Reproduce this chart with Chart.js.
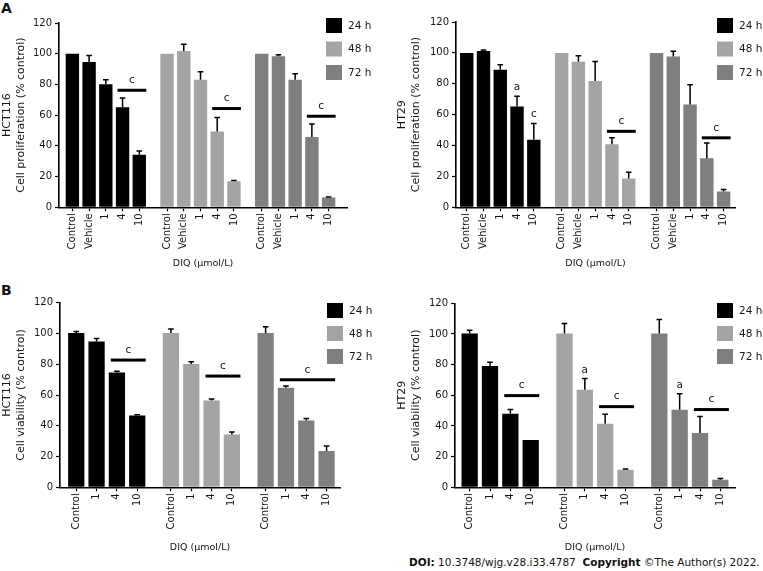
<!DOCTYPE html>
<html><head><meta charset="utf-8">
<script src="https://cdn.jsdelivr.net/npm/chart.js@4.4.0/dist/chart.umd.min.js"></script>
<style>
html,body{margin:0;padding:0;background:#fff;width:763px;height:571px;overflow:hidden;position:relative;font-family:"DejaVu Sans",Verdana,sans-serif;color:#111}
canvas{position:absolute;display:block}
.lbl{position:absolute;font-weight:bold;font-size:14px;line-height:14px}
#doi{position:absolute;left:409px;top:556px;font-size:10.5px;line-height:13px;white-space:nowrap}
</style></head><body>
<div class="lbl" style="left:1px;top:1px">A</div>
<div class="lbl" style="left:1px;top:283px">B</div>
<canvas id="c1" width="380" height="270" style="left:0;top:0"></canvas>
<canvas id="c2" width="383" height="270" style="left:380px;top:0"></canvas>
<canvas id="c3" width="380" height="284" style="left:0;top:270px"></canvas>
<canvas id="c4" width="383" height="284" style="left:380px;top:270px"></canvas>
<div id="doi"><b>DOI:</b> 10.3748/wjg.v28.i33.4787&nbsp;&nbsp;<b>Copyright</b> ©The Author(s) 2022.</div>
<script>
// ---------- data ----------
const timeLabels = ['24 h', '48 h', '72 h'];
const catsA = ['Control', 'Vehicle', '1', '4', '10'];
const catsB = ['Control', '1', '4', '10'];
const yTickValues = [0, 20, 40, 60, 80, 100, 120];
const xTitle = 'DIQ (μmol/L)';

// A - HCT116 proliferation
const hctProl24 = [100, 94.6, 80.1, 65.2, 34.2];
const hctProl24Err = [0, 4.3, 3.0, 6.0, 2.4];
const hctProl48 = [100, 101.7, 83.1, 49.4, 16.9];
const hctProl48Err = [0, 4.5, 5.2, 9.0, 0.6];
const hctProl72 = [100, 98.3, 83.1, 45.7, 6.3];
const hctProl72Err = [0, 1.1, 3.9, 8.6, 0.4];
const hctProlNotes = [
  {g: 0, from: 3, to: 4, level: 76.2, text: 'c'},
  {g: 1, from: 3, to: 4, level: 64.3, text: 'c'},
  {g: 2, from: 3, to: 4, level: 59.3, text: 'c'}
];

// A - HT29 proliferation
const htProl24 = [100, 101.3, 89.1, 65.3, 43.7];
const htProl24Err = [0, 0.6, 3.2, 6.6, 10.5];
const htProl48 = [100, 94.3, 81.8, 40.9, 18.6];
const htProl48Err = [0, 3.8, 12.6, 4.1, 4.1];
const htProl72 = [100, 97.6, 66.6, 31.8, 10.3];
const htProl72Err = [0, 3.4, 12.8, 9.8, 1.3];
const htProlNotes = [
  {g: 0, from: 3, to: 3, level: 77.5, text: 'a'},
  {g: 0, from: 4, to: 4, level: 60.4, text: 'c'},
  {g: 1, from: 3, to: 4, level: 49.2, text: 'c'},
  {g: 2, from: 3, to: 4, level: 45.0, text: 'c'}
];

// B - HCT116 viability
const hctViab24 = [100.3, 94.8, 74.7, 46.7];
const hctViab24Err = [0.9, 2.0, 0.7, 0.4];
const hctViab48 = [100.3, 80.1, 56.5, 34.4];
const hctViab48Err = [2.6, 1.5, 0.9, 1.5];
const hctViab72 = [100.3, 64.7, 43.5, 23.6];
const hctViab72Err = [4.1, 1.1, 1.3, 3.2];
const hctViabNotes = [
  {g: 0, from: 2, to: 3, level: 82.7, text: 'c'},
  {g: 1, from: 2, to: 3, level: 72.3, text: 'c'},
  {g: 2, from: 1, to: 3, level: 69.9, text: 'c'}
];

// B - HT29 viability
const htViab24 = [100.3, 79.1, 48.0, 30.9];
const htViab24Err = [2.2, 2.4, 2.8, 0];
const htViab48 = [100.3, 63.7, 41.5, 11.5];
const htViab48Err = [6.5, 7.2, 6.1, 0.4];
const htViab72 = [100.3, 50.6, 35.4, 5.0];
const htViab72Err = [9.1, 10.4, 10.7, 0.7];
const htViabNotes = [
  {g: 0, from: 2, to: 3, level: 59.8, text: 'c'},
  {g: 1, from: 1, to: 1, level: 76.3, text: 'a'},
  {g: 1, from: 2, to: 3, level: 52.6, text: 'c'},
  {g: 2, from: 1, to: 1, level: 66.3, text: 'a'},
  {g: 2, from: 2, to: 3, level: 50.7, text: 'c'}
];

// ---------- style ----------
const FONT = '"DejaVu Sans", Verdana, sans-serif';
const barColors = ['#000000', '#a4a4a6', '#7f7f7f'];
const TEXT = '#161616';
const GROUP_GAP = 0.66;

const overlay = {
  id: 'overlay',
  afterDatasetsDraw(chart) {
    const ctx = chart.ctx, xs = chart.scales.x, ys = chart.scales.y;
    const o = chart.options.plugins.overlay;
    ctx.save();
    // error bars (upper only)
    chart.data.datasets.forEach(ds => {
      ds.data.forEach((p, i) => {
        const e = ds.errs[i];
        if (!e) return;
        const x = xs.getPixelForValue(p.x);
        const y0 = ys.getPixelForValue(p.y), y1 = ys.getPixelForValue(p.y + e);
        ctx.strokeStyle = '#000'; ctx.lineWidth = 1.5;
        ctx.beginPath(); ctx.moveTo(x, y0); ctx.lineTo(x, y1);
        ctx.moveTo(x - 2.8, y1); ctx.lineTo(x + 2.8, y1); ctx.stroke();
      });
    });
    // significance notes
    ctx.fillStyle = TEXT;
    ctx.font = '10.5px ' + FONT;
    ctx.textAlign = 'center'; ctx.textBaseline = 'middle';
    o.notes.forEach(n => {
      const pos = o.positions[n.g];
      if (n.from === n.to) {
        ctx.fillText(n.text, xs.getPixelForValue(pos[n.from]), ys.getPixelForValue(n.level));
      } else {
        const xa = xs.getPixelForValue(pos[n.from] - 0.3);
        const xb = xs.getPixelForValue(pos[n.to] + 0.42);
        const y = ys.getPixelForValue(n.level);
        ctx.fillStyle = '#000';
        ctx.fillRect(xa, y - 1.5, xb - xa, 3);
        ctx.fillStyle = TEXT;
        ctx.fillText(n.text, (xa + xb) / 2, y - 10);
      }
    });
    // legend
    const L = o.legend;
    ctx.textAlign = 'left';
    ctx.font = '10.5px ' + FONT;
    chart.data.datasets.forEach((ds, g) => {
      const top = L.y + g * L.pitch;
      ctx.fillStyle = ds.backgroundColor;
      ctx.fillRect(L.x, top, 16, 15);
      ctx.fillStyle = TEXT;
      ctx.fillText(ds.label, L.x + 22, top + 8);
    });
    ctx.restore();
  }
};

function makeChart(id, cats, series, errs, notes, yTitle, lay) {
  const n = cats.length, stride = n + GROUP_GAP;
  const positions = [], tickPos = [], tickLabels = [];
  for (let g = 0; g < series.length; g++) {
    positions.push(cats.map((c, i) => g * stride + i));
    cats.forEach((c, i) => { tickPos.push(g * stride + i); tickLabels.push(c); });
  }
  const datasets = series.map((vals, g) => ({
    label: timeLabels[g],
    data: vals.map((v, i) => ({x: positions[g][i], y: v})),
    errs: errs[g],
    backgroundColor: barColors[g],
    borderWidth: 0,
    grouped: false,
    barPercentage: 0.8,
    categoryPercentage: 1
  }));
  const tickFont = {family: FONT, size: 10};
  return new Chart(document.getElementById(id), {
    type: 'bar',
    data: {datasets},
    plugins: [overlay],
    options: {
      responsive: false, animation: false, devicePixelRatio: 1,
      layout: {padding: {left: lay.padL, top: lay.top, right: lay.padR, bottom: 0}},
      plugins: {
        legend: {display: false}, tooltip: {enabled: false},
        overlay: {notes, positions, legend: lay.legend}
      },
      scales: {
        x: {
          type: 'linear', min: lay.xmin, max: tickPos[tickPos.length - 1] + lay.xmaxPad,
          offset: false, bounds: 'data',
          afterBuildTicks: s => { s.ticks = tickPos.map(v => ({value: v})); },
          afterFit: s => { s.height = lay.xH; },
          ticks: {autoSkip: false, minRotation: 90, maxRotation: 90, padding: 2, color: TEXT, font: tickFont,
                  callback: (v, i) => tickLabels[i]},
          grid: {offset: false, drawOnChartArea: false, drawTicks: true, tickLength: 4, color: '#000', tickWidth: 1.2},
          border: {display: true, color: '#000', width: 1.6},
          title: {display: true, text: xTitle, color: TEXT, font: {family: FONT, size: 9.5}, padding: {top: 0, bottom: 1}}
        },
        y: {
          min: 0, max: 120,
          afterBuildTicks: s => { s.ticks = yTickValues.map(v => ({value: v})); },
          afterFit: s => { s.width = lay.yW; },
          ticks: {padding: 3, color: TEXT, font: tickFont},
          grid: {drawOnChartArea: false, drawTicks: true, tickLength: 4, color: '#000', tickWidth: 1.2},
          border: {display: true, color: '#000', width: 1.6},
          title: {display: true, text: yTitle, color: TEXT, font: {family: FONT, size: 11, lineHeight: 1.3}, padding: {top: 0, bottom: 0}}
        }
      }
    }
  });
}

makeChart('c1', catsA, [hctProl24, hctProl48, hctProl72], [hctProl24Err, hctProl48Err, hctProl72Err], hctProlNotes,
  ['HCT116', 'Cell proliferation (% control)'],
  {padL: 0, yW: 59, top: 23, padR: 33, xH: 62.7, xmin: -0.8, xmaxPad: 1.1, legend: {x: 326, y: 18, pitch: 23.5}});
makeChart('c2', catsA, [htProl24, htProl48, htProl72], [htProl24Err, htProl48Err, htProl72Err], htProlNotes,
  ['HT29', 'Cell proliferation (% control)'],
  {padL: 15, yW: 61, top: 22, padR: 28, xH: 62.7, xmin: -0.64, xmaxPad: 0.68, legend: {x: 337, y: 18, pitch: 23.5}});
makeChart('c3', catsB, [hctViab24, hctViab48, hctViab72], [hctViab24Err, hctViab48Err, hctViab72Err], hctViabNotes,
  ['HCT116', 'Cell viability (% control)'],
  {padL: 0, yW: 60, top: 32.7, padR: 40, xH: 66.7, xmin: -0.8, xmaxPad: 0.66, legend: {x: 327, y: 33, pitch: 23}});
makeChart('c4', catsB, [htViab24, htViab48, htViab72], [htViab24Err, htViab48Err, htViab72Err], htViabNotes,
  ['HT29', 'Cell viability (% control)'],
  {padL: 15, yW: 60, top: 33.3, padR: 28, xH: 66.7, xmin: -0.72, xmaxPad: 0.72, legend: {x: 337, y: 33, pitch: 23}});
</script>
</body></html>
